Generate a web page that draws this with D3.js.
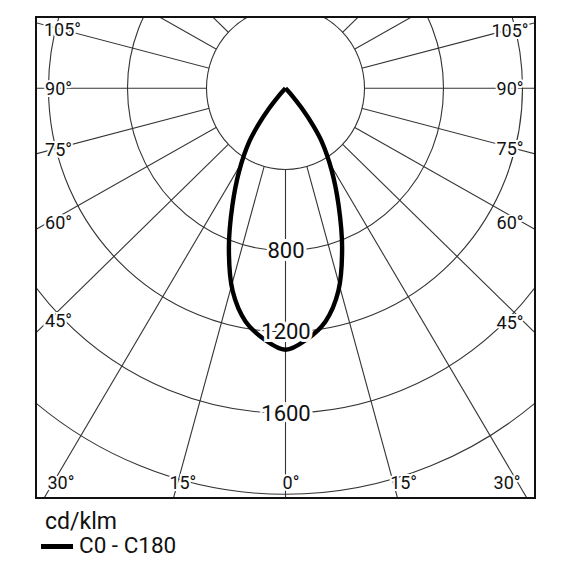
<!DOCTYPE html>
<html>
<head>
<meta charset="utf-8">
<script src="https://cdn.jsdelivr.net/npm/d3@7"></script>
<style>
  html, body { margin: 0; padding: 0; background: #fff; }
  svg { display: block; font-family: Roboto, "Noto Sans", sans-serif; }
</style>
</head>
<body>
<svg id="chart" width="565" height="565"></svg>
<script>
// ---- data ----
const gammaAngles = [0, 5, 10, 15, 20, 25, 30, 35, 37.5, 40, 42.5, 45, 50, 60, 70, 80, 90];
const intensityC0C180 = [1288, 1241, 1166, 1034, 838, 636, 468, 318, 224, 130, 55, 15, 0, 0, 0, 0, 0];
const circleValues = [400, 800, 1200, 1600, 2000];
const circleLabelValues = [800, 1200, 1600];
const radialAngles = [-180, -165, -150, -135, -120, -105, -90, -75, -60, -45, -30, -15, 0, 15, 30, 45, 60, 75, 90, 105, 120, 135, 150, 165, 180];
const sideLabelAngles = [-105, -90, -75, -60, -45, 45, 60, 75, 90, 105];
const bottomLabelAngles = [-30, -15, 0, 15, 30];
const unitLabel = "cd/klm";
const seriesName = "C0 - C180";

// ---- layout ----
const svg = d3.select("#chart");
const frame = { x: 36, y: 17, w: 499, h: 481 };
const cx = 285.5, cy = 88.3;
const rX = d3.scaleLinear().domain([0, 2000]).range([0, 395]);
const rY = d3.scaleLinear().domain([0, 2000]).range([0, 406]);
const radialYFactor = 0.98;
const rad = d => d * Math.PI / 180;
const project = (g, v) => [cx + rX(v) * Math.sin(rad(g)), cy + rY(v) * Math.cos(rad(g))];
const gridColor = "#333";

svg.append("rect").attr("width", 565).attr("height", 565).attr("fill", "#fff");

const defs = svg.append("defs");
defs.append("clipPath").attr("id", "frameClip")
  .append("rect").attr("x", frame.x).attr("y", frame.y).attr("width", frame.w).attr("height", frame.h);

const grid = svg.append("g").attr("clip-path", "url(#frameClip)");

// radial lines
grid.selectAll("line.radial").data(radialAngles).join("line")
  .attr("class", "radial")
  .attr("x1", cx).attr("y1", cy)
  .attr("x2", d => cx + rX(4000) * Math.sin(rad(d)))
  .attr("y2", d => cy + rX(4000) * Math.cos(rad(d)) * radialYFactor)
  .attr("stroke", gridColor).attr("stroke-width", 1.1);

// circles
grid.selectAll("ellipse.ring").data(circleValues).join("ellipse")
  .attr("class", "ring")
  .attr("cx", cx).attr("cy", cy)
  .attr("rx", d => rX(d)).attr("ry", d => rY(d))
  .attr("fill", (d, i) => i === 0 ? "#fff" : "none")
  .attr("stroke", gridColor).attr("stroke-width", 1.1);

// intensity curve
const leftPts = gammaAngles.map((g, i) => project(-g, intensityC0C180[i])).reverse();
const rightPts = gammaAngles.slice(1).map((g, i) => project(g, intensityC0C180[i + 1]));
const line = d3.line().curve(d3.curveCatmullRom.alpha(0.5));
grid.append("path")
  .attr("d", line(leftPts.concat(rightPts)))
  .attr("fill", "none").attr("stroke", "#000").attr("stroke-width", 4.4)
  .attr("stroke-linejoin", "round");

// frame
svg.append("rect")
  .attr("x", frame.x).attr("y", frame.y).attr("width", frame.w).attr("height", frame.h)
  .attr("fill", "none").attr("stroke", "#111").attr("stroke-width", 2);

// circle value labels
svg.selectAll("text.val").data(circleLabelValues).join("text")
  .attr("class", "val")
  .attr("x", cx + 0.5).attr("y", d => cy + rY(d))
  .attr("text-anchor", "middle").attr("dominant-baseline", "central")
  .attr("font-size", 22).attr("fill", "#111")
  .attr("stroke", "#fff").attr("stroke-width", 6).attr("paint-order", "stroke")
  .text(d => d);

// side angle labels: near the radial line, close to the frame
const sideNudgeY = { "-105": 2, "-90": 0, "-75": 0, "-60": 3, "-45": 5.5, "45": 9.5, "60": 4.5, "75": 0.5, "90": 0, "105": 2 };
function sideLabelPos(a) {
  const left = a < 0;
  const x = left ? frame.x + 22.5 : frame.x + frame.w - 25;
  const dx = x - cx;
  const y = cy + dx / Math.sin(rad(a)) * Math.cos(rad(a)) + sideNudgeY[String(a)];
  const nudgeX = (left && Math.abs(a) === 105) ? 4 : 0;
  return [x + nudgeX, y];
}
svg.selectAll("text.side").data(sideLabelAngles).join("text")
  .attr("class", "side")
  .attr("x", d => sideLabelPos(d)[0]).attr("y", d => sideLabelPos(d)[1])
  .attr("text-anchor", "middle").attr("dominant-baseline", "central")
  .attr("font-size", 18).attr("fill", "#111")
  .attr("stroke", "#fff").attr("stroke-width", 4).attr("paint-order", "stroke")
  .text(d => Math.abs(d) + "°");

// bottom angle labels
const bottomY = 482.5;
const bottomNudge = { "-30": 3, "-15": 3, "0": 5.5, "15": 12.5, "30": -6 };
svg.selectAll("text.bottom").data(bottomLabelAngles).join("text")
  .attr("class", "bottom")
  .attr("x", d => cx + (bottomY - cy) * Math.tan(rad(d)) + bottomNudge[String(d)])
  .attr("y", bottomY)
  .attr("text-anchor", "middle").attr("dominant-baseline", "central")
  .attr("font-size", 18).attr("fill", "#111")
  .attr("stroke", "#fff").attr("stroke-width", 4).attr("paint-order", "stroke")
  .text(d => Math.abs(d) + "°");

// legend
svg.append("text").attr("x", 45).attr("y", 529)
  .attr("font-size", 23).attr("fill", "#111").text(unitLabel);
svg.append("line").attr("x1", 41).attr("x2", 73).attr("y1", 546.5).attr("y2", 546.5)
  .attr("stroke", "#000").attr("stroke-width", 5);
svg.append("text").attr("x", 79).attr("y", 553)
  .attr("font-size", 22.5).attr("fill", "#111").text(seriesName);
</script>
</body>
</html>
